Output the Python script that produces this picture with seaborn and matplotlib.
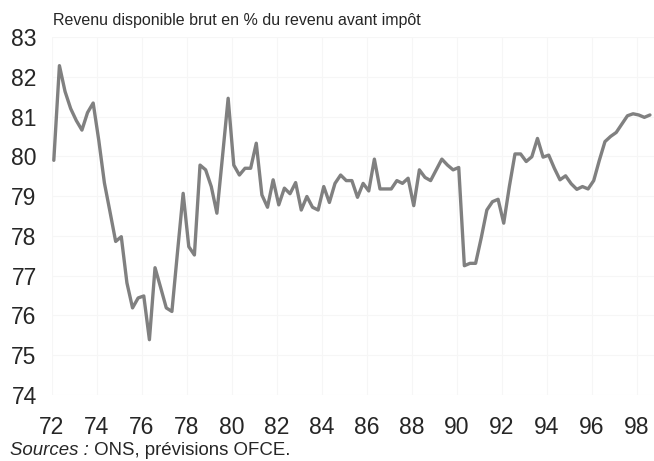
import matplotlib
matplotlib.use("Agg")
import matplotlib.pyplot as plt
import seaborn as sns
import numpy as np
import pandas as pd

# Revenu disponible brut en % du revenu avant impôt, trimestriel 1972T1 - 1998T3
values = [
    79.90, 82.28, 81.63, 81.20, 80.90, 80.66, 81.10, 81.34,   # 72-73
    80.40, 79.33, 78.60, 77.86, 77.98, 76.82, 76.19, 76.44,   # 74-75
    76.49, 75.39, 77.20, 76.70, 76.19, 76.10, 77.60, 79.07,   # 76-77
    77.73, 77.52, 79.78, 79.66, 79.24, 78.57, 80.00, 81.46,   # 78-79
    79.78, 79.53, 79.70, 79.70, 80.33, 79.03, 78.72, 79.41,   # 80-81
    78.78, 79.20, 79.06, 79.34, 78.65, 78.99, 78.72, 78.65,   # 82-83
    79.24, 78.84, 79.32, 79.53, 79.39, 79.39, 78.97, 79.32,   # 84-85
    79.13, 79.93, 79.18, 79.18, 79.18, 79.39, 79.32, 79.45,   # 86-87
    78.76, 79.66, 79.47, 79.39, 79.66, 79.93, 79.78, 79.66,   # 88-89
    79.72, 77.25, 77.31, 77.31, 77.95, 78.65, 78.86, 78.92,   # 90-91
    78.32, 79.24, 80.06, 80.06, 79.87, 79.99, 80.45, 79.98,   # 92-93
    80.03, 79.70, 79.41, 79.51, 79.31, 79.17, 79.24, 79.18,   # 94-95
    79.39, 79.90, 80.37, 80.50, 80.60, 80.81, 81.02, 81.07,   # 96-97
    81.04, 80.98, 81.04,                                      # 98
]
start_year = 72
years = start_year + np.arange(len(values)) / 4 + 0.08

x_ticks = list(range(72, 99, 2))
y_ticks = list(range(74, 84))

title = "Revenu disponible brut en % du revenu avant impôt"
source_label = "Sources :"
source_text = " ONS, prévisions OFCE."

df = pd.DataFrame({"annee": years, "revenu": values})

sns.set_style("white")
plt.rcParams["font.family"] = ["Liberation Sans", "DejaVu Sans"]

fig = plt.figure(figsize=(6.54, 4.61), dpi=100)
ax = fig.add_axes([52 / 654, 1 - 395 / 461, 1 - 52 / 654, (395 - 37) / 461])

sns.lineplot(data=df, x="annee", y="revenu", color="#808080", linewidth=2.4, ax=ax)

ax.set_xlim(72, 98.76)
ax.set_ylim(74, 83)
ax.set_xticks(x_ticks)
ax.set_xticklabels([str(t) for t in x_ticks])
ax.set_yticks(y_ticks)
ax.set_xlabel("")
ax.set_ylabel("")
ax.grid(True, color="#f6f6f6", linewidth=0.8)
ax.set_axisbelow(True)
for s in ax.spines.values():
    s.set_visible(False)
ax.tick_params(axis="y", length=0, pad=11, labelsize=16.5)
ax.tick_params(axis="x", length=0, pad=15, labelsize=16.5)

fig.text(53 / 654, 1 - 25 / 461, title, fontsize=11.5, ha="left", va="baseline")

t1 = fig.text(10 / 654, 1 - 450 / 461, source_label, fontsize=13.4, style="italic",
              ha="left", va="center")
ax.annotate(source_text, xy=(1, 0), xycoords=t1, fontsize=13.4,
            ha="left", va="bottom", annotation_clip=False)

fig.savefig("out.png", dpi=100)
